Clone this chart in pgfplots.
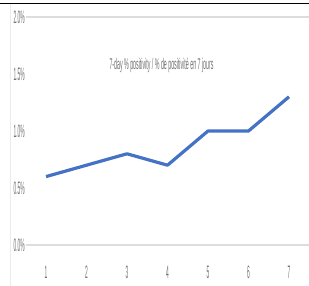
\documentclass[border=0pt]{standalone}
\usepackage{fontspec}
\setmainfont{Liberation Sans}
\usepackage{pgfplots}
\pgfplotsset{compat=1.18}
\definecolor{lineblue}{HTML}{4472C4}
\definecolor{txtgray}{HTML}{6E6E6E}
\definecolor{gridgray}{HTML}{DDDDDD}
\begin{document}
\begin{tikzpicture}[x=1pt,y=1pt]
\path[use as bounding box] (0,0) rectangle (309,286);
\draw[black, line width=1.2pt] (0,282.5) -- (309,282.5);
\draw[gridgray!60, line width=0.6pt] (10.5,0) -- (10.5,282);
\begin{axis}[
  at={(25.75pt,41pt)}, anchor=south west,
  scale only axis, width=283.5pt, height=228pt,
  xmin=0.5, xmax=7.5, ymin=0, ymax=2.0,
  axis line style={draw=none},
  major tick length=0pt,
  xtick={1,2,3,4,5,6,7},
  xticklabels={1,2,3,4,5,6,7},
  ytick={0,0.5,1,1.5,2},
  yticklabels={0.0\%,0.5\%,1.0\%,1.5\%,2.0\%},
  tick label style={font=\fontsize{18}{18}\selectfont, text=txtgray, xscale=0.27, inner sep=0pt},
  yticklabel style={anchor=east, xshift=-3.5pt},
  xticklabel style={anchor=north, yshift=-21pt},
  extra y ticks={0,2}, extra y tick labels={},
  extra y tick style={grid=major, major grid style={gridgray, line width=1.2pt}},
  clip=false,
]
\addplot[lineblue, line width=3.2pt, line join=round] coordinates {
(1,0.6) (2,0.7) (3,0.8) (4,0.7) (5,1.0) (6,1.0) (7,1.3)
};
\end{axis}
\node[text=txtgray, inner sep=0pt] at (161.5,221) {\scalebox{0.34}[1]{\fontsize{15.5}{15.5}\selectfont 7-day \% positivity / \% de positivité en 7 jours}};
\end{tikzpicture}
\end{document}
